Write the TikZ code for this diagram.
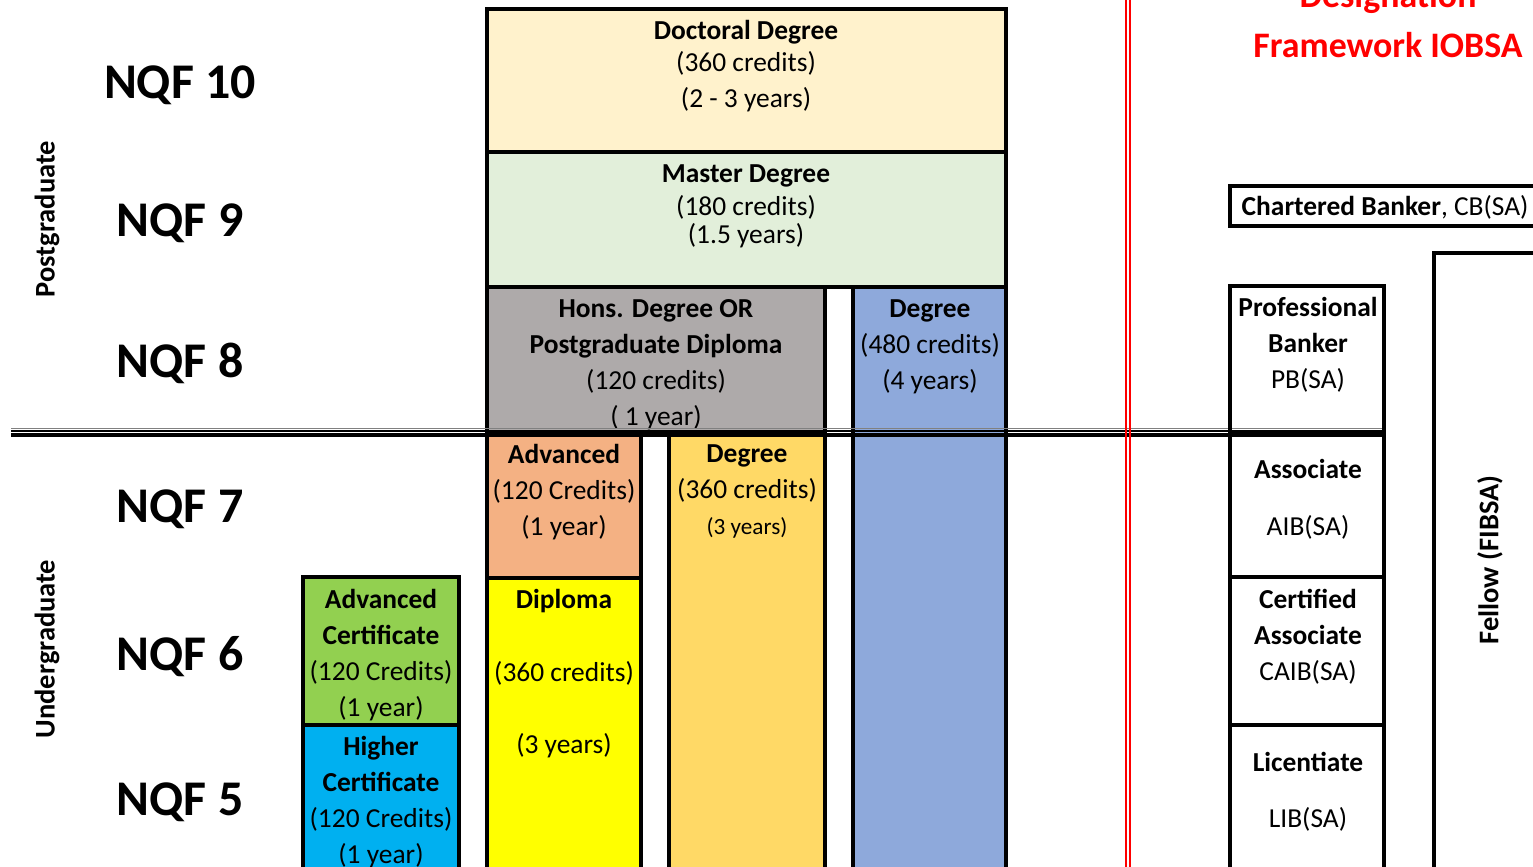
\documentclass[tikz,border=0pt]{standalone}
\usepackage{fontspec}
\setmainfont{Carlito}
\usepackage{tikz}
\usetikzlibrary{positioning}

\definecolor{docfill}{HTML}{FFF2CC}
\definecolor{masfill}{HTML}{E2EFDA}
\definecolor{honsfill}{HTML}{AEAAAA}
\definecolor{degfill}{HTML}{8EA9DB}
\definecolor{advfill}{HTML}{F4B183}
\definecolor{bachfill}{HTML}{FFD966}
\definecolor{dipfill}{HTML}{FFFF00}
\definecolor{acertfill}{HTML}{92D050}
\definecolor{hcertfill}{HTML}{00B0F0}
\definecolor{titlered}{HTML}{FF0000}

\begin{document}
\begin{tikzpicture}[
  x=0.01cm, y=-0.01cm,
  box/.style={draw=black, line width=1.1pt},
  txt/.style={font=\fontsize{7.8}{10.2}\selectfont, align=center, anchor=north, inner sep=0pt},
  nqf/.style={font=\fontsize{14.2}{16}\selectfont\bfseries, anchor=base, inner sep=0pt},
  side/.style={font=\fontsize{8.1}{10}\selectfont\bfseries, rotate=90, inner sep=0pt}
]
  \useasboundingbox (0,0) rectangle (1533,867);
  \clip (0,0) rectangle (1533,867);

  % NQF levels
  \node[nqf] (nqf10) at (180,99)  {NQF 10};
  \node[nqf] (nqf9)  at (180,237) {NQF 9};
  \node[nqf] (nqf8)  at (180,377) {NQF 8};
  \node[nqf] (nqf7)  at (180,522) {NQF 7};
  \node[nqf] (nqf6)  at (180,670) {NQF 6};
  \node[nqf] (nqf5)  at (180,815) {NQF 5};

  \node[side] (post)  at (47,219) {Postgraduate};
  \node[side] (under) at (47,649) {Undergraduate};

  % qualification blocks
  \draw[box, fill=docfill]   (487,9)   rectangle (1006,152);
  \draw[box, fill=masfill]   (487,152) rectangle (1006,287);
  \draw[box, fill=honsfill]  (487,287) rectangle (825,433);
  \draw[box, fill=degfill]   (853,287) rectangle (1006,880);
  \draw[box, fill=advfill]   (487,433) rectangle (641,578);
  \draw[box, fill=bachfill]  (669,433) rectangle (825,880);
  \draw[box, fill=dipfill]   (487,578) rectangle (641,880);
  \draw[box, fill=acertfill] (303,577) rectangle (459,725);
  \draw[box, fill=hcertfill] (303,725) rectangle (459,880);

  \node[txt] (doc) at (746,20) {\textbf{Doctoral Degree}\\[-1.2pt](360 credits)\\(2 - 3 years)};
  \node[txt] (mas) at (746,164) {\textbf{Master Degree}\\[-0.8pt](180 credits)\\[-2.2pt](1.5 years)};
  \node[txt] (hons) at (656,299) {\textbf{Hons. Degree OR}\\\textbf{Postgraduate Diploma}\\(120 credits)\\( 1 year)};
  \node[txt] (deg) at (930,299) {\textbf{Degree}\\(480 credits)\\(4 years)};
  \node[txt] (adv) at (564,444) {\textbf{Advanced}\\(120 Credits)\\(1 year)};
  \node[txt] (bach) at (747,444) {\textbf{Degree}\\(360 credits)\\{\fontsize{6.6}{8}\selectfont (3 years)}};
  \node[txt] (dip) at (564,589) {\textbf{Diploma}\\[10.4pt](360 credits)\\[10.2pt](3 years)};
  \node[txt] (acert) at (381,589) {\textbf{Advanced}\\\textbf{Certificate}\\(120 Credits)\\(1 year)};
  \node[txt] (hcert) at (381,736) {\textbf{Higher}\\\textbf{Certificate}\\(120 Credits)\\(1 year)};

  % NQF 7/8 divider
  \coordinate (divL) at (11,433);
  \coordinate (divR) at (1384,433);
  \draw[gray, line width=0.4pt] ([yshift=1.2pt]divL) -- ([yshift=1.2pt]divR);
  \draw[line width=0.5pt] ([yshift=0.6pt]divL) -- ([yshift=0.6pt]divR);
  \draw[line width=1pt] ([yshift=-0.6pt]divL) -- ([yshift=-0.6pt]divR);

  % red separator
  \coordinate (redT) at (1127.7,0);
  \coordinate (redB) at (1127.7,867);
  \draw[titlered, line width=0.6pt] ([xshift=-0.6pt]redT) -- ([xshift=-0.6pt]redB);
  \draw[titlered, line width=0.6pt] ([xshift=0.6pt]redT) -- ([xshift=0.6pt]redB);

  % IOBSA designations
  \node[font=\fontsize{10.2}{14.2}\selectfont\bfseries, text=titlered, align=center,
        anchor=south, inner sep=0pt] (title) at (1388,58) {Designation\\Framework IOBSA};

  \draw[box] (1230,186) rectangle (1560,226);
  \node[txt, anchor=west] (cb) at (1241,207) {\textbf{Chartered Banker}, CB(SA)};

  \draw[box] (1230,286) rectangle (1384,433);
  \draw[box] (1230,433) rectangle (1384,577);
  \draw[box] (1230,577) rectangle (1384,725);
  \draw[box] (1230,725) rectangle (1384,880);
  \draw[box] (1434,253) rectangle (1560,880);

  \node[txt] (pb)   at (1308,297) {\textbf{Professional}\\\textbf{Banker}\\PB(SA)};
  \node[txt] (aib)  at (1308,459) {\textbf{Associate}\\[5.8pt]AIB(SA)};
  \node[txt] (caib) at (1308,589) {\textbf{Certified}\\\textbf{Associate}\\CAIB(SA)};
  \node[txt] (lib)  at (1308,752) {\textbf{Licentiate}\\[5.5pt]LIB(SA)};
  \node[side] (fibsa) at (1490,560) {Fellow (FIBSA)};
\end{tikzpicture}
\end{document}
